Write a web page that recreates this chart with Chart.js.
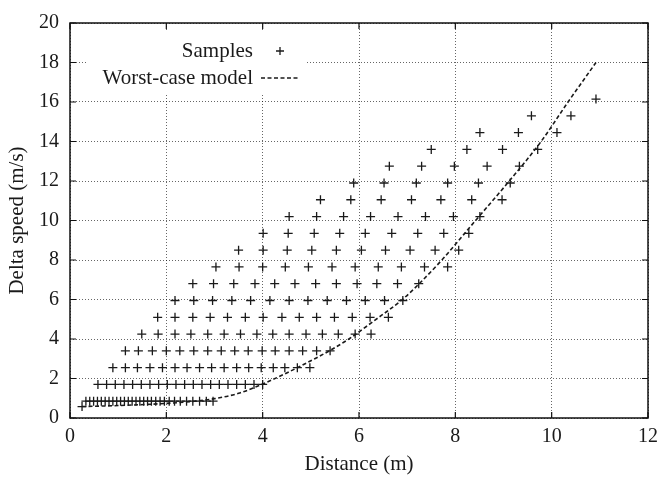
<html>
<head>
<meta charset="UTF-8">
<title>Delta speed vs distance</title>
<script src="https://cdn.jsdelivr.net/npm/chart.js@4.4.0/dist/chart.umd.min.js"></script>
<style>
  body { margin: 0; background: #fff; }
  #wrap { width: 665px; height: 477px; }
</style>
</head>
<body>
<div id="wrap"><canvas id="scatterChart"></canvas></div>
<script>
// delta speed level of each row of samples (m/s)
var speedLevels = [0.58, 0.85, 1.7, 2.55, 3.4, 4.25, 5.1, 5.95, 6.8, 7.65, 8.5, 9.35, 10.2, 11.05, 11.9, 12.75, 13.6, 14.45, 15.3, 16.15];
// distances (m) of the samples in each row
var distanceRows = [
  [0.25],
  [0.33, 0.41, 0.49, 0.57, 0.65, 0.73, 0.81, 0.89, 0.97, 1.05, 1.13, 1.21, 1.29, 1.37, 1.45, 1.53, 1.61, 1.69, 1.78, 1.87, 1.96, 2.06, 2.17, 2.29, 2.42, 2.55, 2.69, 2.83, 2.97],
  [0.58, 0.76, 0.94, 1.12, 1.30, 1.48, 1.66, 1.84, 2.02, 2.20, 2.38, 2.56, 2.74, 2.92, 3.10, 3.28, 3.46, 3.64, 3.82, 4.00],
  [0.89, 1.15, 1.40, 1.66, 1.92, 2.18, 2.43, 2.69, 2.94, 3.20, 3.46, 3.71, 3.97, 4.22, 4.46, 4.72, 4.98],
  [1.15, 1.42, 1.71, 2.00, 2.28, 2.57, 2.86, 3.14, 3.42, 3.70, 3.99, 4.26, 4.55, 4.83, 5.12, 5.40],
  [1.49, 1.83, 2.18, 2.51, 2.86, 3.20, 3.54, 3.88, 4.21, 4.55, 4.90, 5.24, 5.57, 5.92, 6.25],
  [1.82, 2.18, 2.55, 2.91, 3.27, 3.64, 4.01, 4.40, 4.76, 5.12, 5.49, 5.86, 6.23, 6.61],
  [2.18, 2.57, 2.96, 3.36, 3.75, 4.15, 4.55, 4.94, 5.34, 5.74, 6.13, 6.53, 6.91],
  [2.55, 2.98, 3.40, 3.84, 4.25, 4.67, 5.10, 5.53, 5.96, 6.37, 6.80, 7.24],
  [3.03, 3.51, 4.00, 4.47, 4.95, 5.44, 5.92, 6.40, 6.88, 7.36, 7.84],
  [3.50, 4.01, 4.51, 5.02, 5.53, 6.05, 6.55, 7.06, 7.58, 8.07],
  [4.01, 4.53, 5.07, 5.60, 6.13, 6.68, 7.22, 7.76, 8.28],
  [4.55, 5.12, 5.68, 6.24, 6.81, 7.38, 7.96, 8.51],
  [5.20, 5.83, 6.46, 7.09, 7.70, 8.34, 8.97],
  [5.89, 6.52, 7.19, 7.84, 8.48, 9.14],
  [6.63, 7.30, 7.98, 8.66, 9.33],
  [7.50, 8.24, 8.98, 9.71],
  [8.51, 9.31, 10.11],
  [9.58, 10.40],
  [10.92]
];
// worst-case model curve
var modelDist  = [0.25, 1.0, 2.0, 2.5, 3.0, 3.5, 4.0, 4.5, 5.0, 5.4, 5.79, 6.3, 6.9, 7.25, 7.72, 8.42, 9.12, 9.78, 10.34, 10.92];
var modelSpeed = [0.58, 0.63, 0.74, 0.83, 0.98, 1.25, 1.72, 2.28, 2.9, 3.42, 4.0, 4.9, 6.0, 6.8, 8.0, 10.0, 12.0, 14.0, 16.0, 18.0];

var seriesNames = ['Samples', 'Worst-case model'];

var samplePoints = [];
for (var r = 0; r < speedLevels.length; r++) {
  for (var k = 0; k < distanceRows[r].length; k++) {
    samplePoints.push({x: distanceRows[r][k], y: speedLevels[r]});
  }
}
var modelPoints = modelDist.map(function(d, i) { return {x: d, y: modelSpeed[i]}; });

var fontFam = '"Liberation Serif", "Times New Roman", serif';
var ink = '#1a1a1a';
var curveDash = [4, 2.5];

// gnuplot-like frame, inward ticks and legend
var gnuFrame = {
  id: 'gnuFrame',
  afterDatasetsDraw: function(chart) {
    var ctx = chart.ctx, a = chart.chartArea, x = chart.scales.x, y = chart.scales.y;
    ctx.save();

    // legend with white backing
    ctx.fillStyle = '#fff';
    ctx.fillRect(a.left + 16, a.top + 9, 220, 61);
    ctx.fillStyle = ink;
    ctx.font = '21px ' + fontFam;
    ctx.textAlign = 'right';
    ctx.textBaseline = 'middle';
    var tx = a.left + 183;
    var r1 = a.top + 28, r2 = a.top + 55;
    ctx.fillText(seriesNames[0], tx, r1);
    ctx.fillText(seriesNames[1], tx, r2);
    ctx.strokeStyle = ink;
    ctx.lineWidth = 1.3;
    ctx.beginPath();
    var cx = a.left + 210;
    ctx.moveTo(cx - 4, r1); ctx.lineTo(cx + 4, r1);
    ctx.moveTo(cx, r1 - 4); ctx.lineTo(cx, r1 + 4);
    ctx.stroke();
    ctx.lineWidth = 1.6;
    ctx.setLineDash(curveDash);
    ctx.beginPath();
    ctx.moveTo(a.left + 191, r2); ctx.lineTo(a.left + 228, r2);
    ctx.stroke();
    ctx.setLineDash([]);

    // frame
    ctx.strokeStyle = '#111';
    ctx.lineWidth = 1.5;
    ctx.strokeRect(a.left, a.top, a.right - a.left, a.bottom - a.top);

    // inward ticks on all four sides
    ctx.lineWidth = 1.2;
    ctx.beginPath();
    x.ticks.forEach(function(t) {
      var px = x.getPixelForValue(t.value);
      ctx.moveTo(px, a.bottom); ctx.lineTo(px, a.bottom - 6);
      ctx.moveTo(px, a.top); ctx.lineTo(px, a.top + 6);
    });
    y.ticks.forEach(function(t) {
      var py = y.getPixelForValue(t.value);
      ctx.moveTo(a.left, py); ctx.lineTo(a.left + 6, py);
      ctx.moveTo(a.right, py); ctx.lineTo(a.right - 6, py);
    });
    ctx.stroke();
    ctx.restore();
  }
};

var ctxS = document.getElementById('scatterChart').getContext('2d');
var myChart = new Chart(ctxS, {
  type: 'scatter',
  data: {
    datasets: [{
      label: seriesNames[0],
      data: samplePoints,
      pointStyle: 'cross',
      pointRadius: 4.5,
      pointBorderWidth: 1.3,
      borderColor: ink,
      backgroundColor: ink
    }, {
      type: 'line',
      label: seriesNames[1],
      data: modelPoints,
      showLine: true,
      pointRadius: 0,
      borderColor: ink,
      borderWidth: 1.6,
      borderDash: curveDash,
      cubicInterpolationMode: 'monotone',
      fill: false
    }]
  },
  options: {
    responsive: true,
    maintainAspectRatio: false,
    animation: false,
    devicePixelRatio: 1,
    layout: { padding: { top: 13, right: 11, left: 0, bottom: 0 } },
    plugins: { legend: { display: false }, tooltip: { enabled: false } },
    scales: {
      x: {
        type: 'linear', min: 0, max: 12,
        ticks: { stepSize: 2, color: ink, font: { family: fontFam, size: 20 }, padding: 7, maxRotation: 0 },
        grid: { color: 'rgba(0,0,0,0.6)', lineWidth: 1, drawTicks: false },
        border: { display: false, dash: [1, 2] },
        title: { display: true, text: 'Distance (m)', color: ink, font: { family: fontFam, size: 21 }, padding: { top: 0, bottom: 0 } },
        afterFit: function(s) { s.height = 59; }
      },
      y: {
        type: 'linear', min: 0, max: 20,
        ticks: { stepSize: 2, color: ink, font: { family: fontFam, size: 20 }, padding: 11 },
        grid: { color: 'rgba(0,0,0,0.6)', lineWidth: 1, drawTicks: false },
        border: { display: false, dash: [1, 2] },
        title: { display: true, text: 'Delta speed (m/s)', color: ink, font: { family: fontFam, size: 21 }, padding: { top: 5, bottom: 4 } },
        afterFit: function(s) { s.width = 70; }
      }
    }
  },
  plugins: [gnuFrame]
});
</script>
</body>
</html>
